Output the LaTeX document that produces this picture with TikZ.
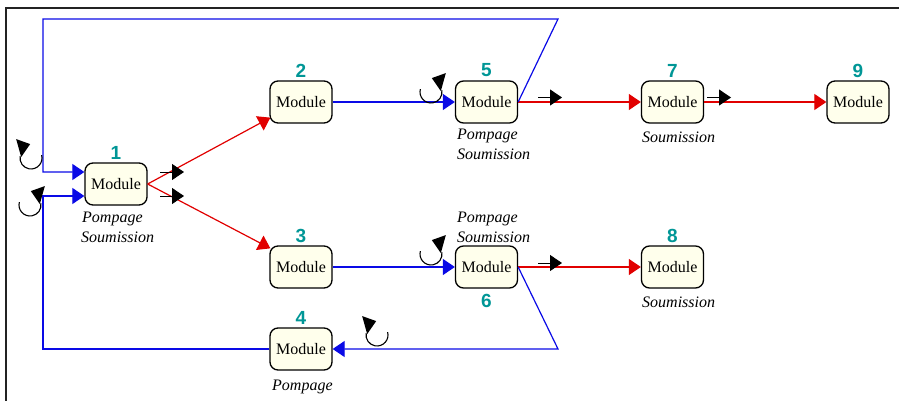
\documentclass[tikz,border=0pt]{standalone}
\usepackage{fontspec}
\setmainfont{Liberation Serif}
\newfontfamily\numfont{Liberation Sans}
\usetikzlibrary{arrows.meta,calc}

\definecolor{modfill}{RGB}{255,255,236}
\definecolor{numteal}{RGB}{0,150,150}
\definecolor{linkblue}{RGB}{10,10,230}
\definecolor{linkred}{RGB}{225,0,0}
\definecolor{framegray}{RGB}{35,35,35}

\tikzset{
  module/.style={draw=black, line width=1.3pt, fill=modfill, rounded corners=8pt,
    minimum width=62pt, minimum height=42pt, inner sep=0pt,
    font=\fontsize{16}{18}\selectfont},
  num/.style={text=numteal, inner sep=0pt,
    font=\numfont\bfseries\fontsize{19}{20}\selectfont},
  role/.style={inner sep=0pt, anchor=base west, font=\itshape\fontsize{16}{18}\selectfont},
  bluelink/.style={draw=linkblue, line width=1.2pt},
  redlink/.style={draw=linkred, line width=1.2pt},
  tipped/.style={-{Triangle[length=12pt,width=16pt]}},
  % output marker: short stroke followed by a filled triangle
  outmark/.pic={
    \draw[line width=1pt, black, -{Triangle[length=12pt,width=16pt]}] (0,0) -- (24,0);
  },
  % rotation symbol, arrow head on the right
  rotright/.pic={
    \draw[line width=1.1pt] (-10:11) arc[start angle=-10, end angle=195, radius=11];
    \fill (-10:11) ++(-1,1) -- ++(-9,-13) -- ++(14,-5) -- cycle;
  },
  % rotation symbol, arrow head on the left
  rotleft/.pic={
    \draw[line width=1.1pt] (190:11) arc[start angle=190, end angle=-15, radius=11];
    \fill (190:11) ++(1,1) -- ++(9,-13) -- ++(-14,-5) -- cycle;
  },
}

\begin{document}
\begin{tikzpicture}[x=1pt, y=-1pt]
\useasboundingbox (0,0) rectangle (899,401);

% frame (top and left edges)
\draw[framegray, line width=2pt] (6,401) -- (6,8) -- (899,8);

% modules
\node[module] (m1) at (116,184)   {Module};
\node[module] (m2) at (301,102)   {Module};
\node[module] (m3) at (301,267)   {Module};
\node[module] (m4) at (301,349)   {Module};
\node[module] (m5) at (486.5,102) {Module};
\node[module] (m6) at (486.5,267) {Module};
\node[module] (m7) at (672.5,102) {Module};
\node[module] (m8) at (672.5,267) {Module};
\node[module] (m9) at (858,102)   {Module};

% numbers
\node[num] (n1) at (116,152.5)   {1};
\node[num] (n2) at (301,70.5)    {2};
\node[num] (n3) at (301,235.5)   {3};
\node[num] (n4) at (301,317.5)   {4};
\node[num] (n5) at (486.5,70.5)  {5};
\node[num] (n6) at (486.5,300.5) {6};
\node[num] (n7) at (672.5,70.5)  {7};
\node[num] (n8) at (672.5,235.5) {8};
\node[num] (n9) at (858,70.5)    {9};

% roles
\node[role] (p1) at (82,222.5)  {Pompage};
\node[role] (s1) at (81,242)    {Soumission};
\node[role] (p5) at (457,139.5) {Pompage};
\node[role] (s5) at (457,159)   {Soumission};
\node[role] (p6) at (457,222.5) {Pompage};
\node[role] (s6) at (457,242)   {Soumission};
\node[role] (s7) at (642,142.5) {Soumission};
\node[role] (s8) at (642,307)   {Soumission};
\node[role] (p4) at (272,390.5) {Pompage};

% forward links
\draw[redlink, tipped] (m1.east) -- ($(m2.south west)+(1,-6)$);
\draw[redlink, tipped] (m1.east) -- ($(m3.north west)+(1,3)$);
\draw[bluelink, tipped] (m2.east) -- (m5.west);
\draw[bluelink, tipped] (m3.east) -- (m6.west);
\draw[redlink, tipped] (m5.east) -- (m7.west);
\draw[redlink, tipped] (m7.east) -- (m9.west);
\draw[redlink, tipped] (m6.east) -- (m8.west);

% feedback loops
\coordinate (tr) at (558,19);
\coordinate (tl) at (43,19);
\coordinate (br) at (558,349);
\coordinate (bl) at (43,349);
\coordinate (in1) at ($(m1.west)+(0,-12)$);
\coordinate (in2) at ($(m1.west)+(0,12)$);
\draw[bluelink, tipped] (m5.east) -- (tr) -- (tl) -- (tl |- in1) -- (in1);
\draw[bluelink, tipped] (m6.east) -- (br) -- (m4.east);
\draw[bluelink, tipped] (m4.west) -- (bl) -- (bl |- in2) -- (in2);

% output markers
\pic at (160,172) {outmark};
\pic at (160,196) {outmark};
\pic at (538,97.5) {outmark};
\pic at (707,97.5) {outmark};
\pic at (538,263) {outmark};

% rotation symbols
\pic at (31,158)  {rotleft};
\pic at (30,205)  {rotright};
\pic at (431,92)  {rotright};
\pic at (431,254) {rotright};
\pic at (377,335) {rotleft};

\end{tikzpicture}
\end{document}
